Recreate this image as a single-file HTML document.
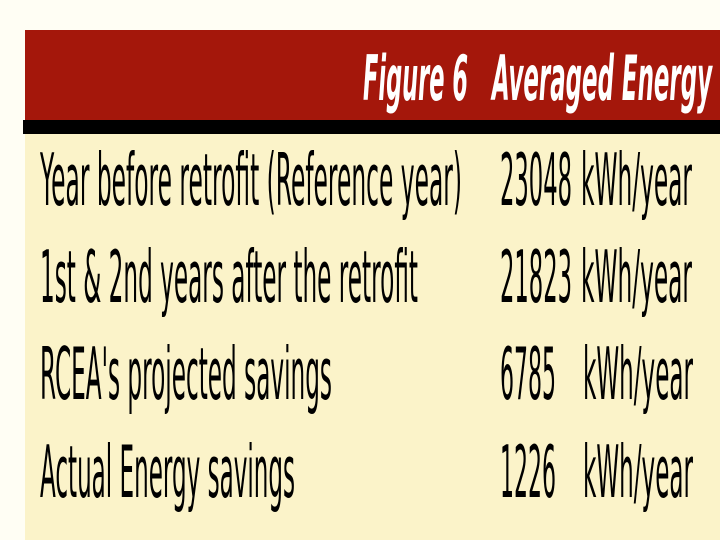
<!DOCTYPE html>
<html><head><style>
html,body{margin:0;padding:0;width:720px;height:540px;overflow:hidden;background:#fffef4}
</style></head><body>
<svg width="720" height="540" xmlns="http://www.w3.org/2000/svg" style="display:block">
<rect x="0" y="0" width="720" height="540" fill="#fffef4"/>
<rect x="25" y="120" width="695" height="420" fill="#fbf3c9"/>
<rect x="25" y="30" width="695" height="90" fill="#a4170b"/>
<rect x="23" y="120" width="697" height="14" fill="#000"/>
<g font-family="DejaVu Sans, sans-serif" font-weight="bold" font-style="italic" fill="#fff" font-size="62">
<text x="363" y="100" textLength="105" lengthAdjust="spacingAndGlyphs">Figure 6</text>
<text x="492" y="100" textLength="220" lengthAdjust="spacingAndGlyphs">Averaged Energy</text>
</g>
<g font-family="DejaVu Sans, sans-serif" fill="#000" font-size="72">
<text x="40" y="205" textLength="422" lengthAdjust="spacingAndGlyphs">Year before retrofit (Reference year)</text>
<text x="500" y="205" textLength="72" lengthAdjust="spacingAndGlyphs">23048</text>
<text x="581" y="205" textLength="111" lengthAdjust="spacingAndGlyphs">kWh/year</text>
<text x="40" y="302" textLength="378" lengthAdjust="spacingAndGlyphs">1st &amp; 2nd years after the retrofit</text>
<text x="500" y="302" textLength="72" lengthAdjust="spacingAndGlyphs">21823</text>
<text x="581" y="302" textLength="111" lengthAdjust="spacingAndGlyphs">kWh/year</text>
<text x="40" y="399" textLength="292" lengthAdjust="spacingAndGlyphs">RCEA's projected savings</text>
<text x="500" y="399" textLength="56" lengthAdjust="spacingAndGlyphs">6785</text>
<text x="583" y="399" textLength="110" lengthAdjust="spacingAndGlyphs">kWh/year</text>
<text x="40" y="497" textLength="255" lengthAdjust="spacingAndGlyphs">Actual Energy savings</text>
<text x="500" y="497" textLength="56" lengthAdjust="spacingAndGlyphs">1226</text>
<text x="583" y="497" textLength="110" lengthAdjust="spacingAndGlyphs">kWh/year</text>
</g>
</svg>
</body></html>
